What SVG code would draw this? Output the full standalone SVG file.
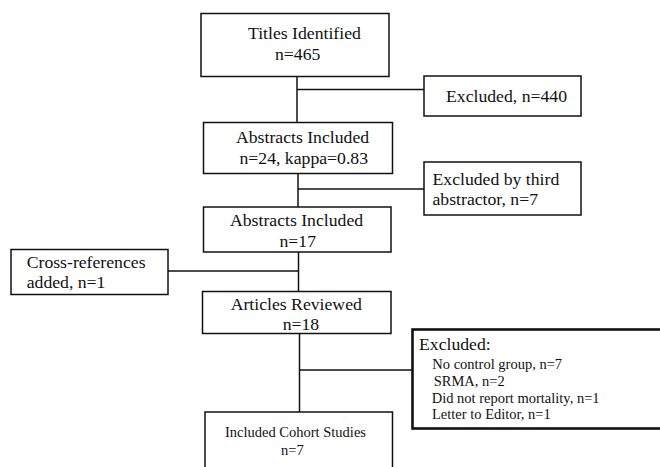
<svg xmlns="http://www.w3.org/2000/svg" width="660" height="467" viewBox="0 0 660 467" font-family="Liberation Serif, DejaVu Serif, serif">
<style>
rect.box{fill:#fff;stroke:#111;stroke-width:1.5}
rect.thick{fill:#fff;stroke:#111;stroke-width:2.6}
text{font-family:'Liberation Serif','DejaVu Serif',serif;fill:#111;font-size:17.7px}
text.sm{font-size:14.5px}
#connectors line{stroke:#111;stroke-width:1.5}
</style>
<rect width="660" height="467" fill="#fff"/>
<g id="connectors">
<line x1="297" y1="76.5" x2="297" y2="122.5"/>
<line x1="297" y1="89.5" x2="424" y2="89.5"/>
<line x1="298" y1="173.5" x2="298" y2="207"/>
<line x1="298" y1="189" x2="424" y2="189"/>
<line x1="298.5" y1="252" x2="298.5" y2="291.5"/>
<line x1="168" y1="271" x2="298.5" y2="271"/>
<line x1="299.5" y1="333" x2="299.5" y2="412"/>
<line x1="299.5" y1="370" x2="412.5" y2="370"/>
</g>
<g id="titles">
<rect class="box" x="201" y="13.5" width="188" height="63"/>
<text x="248" y="39">Titles Identified</text>
<text x="275" y="60">n=465</text>
</g>
<g id="excluded440">
<rect class="box" x="424" y="76" width="157" height="40"/>
<text x="446" y="101.5">Excluded, n=440</text>
</g>
<g id="abstracts1">
<rect class="box" x="203.5" y="122.5" width="189" height="51"/>
<text x="236" y="143">Abstracts Included</text>
<text x="239.5" y="163.5">n=24, kappa=0.83</text>
</g>
<g id="excludedThird">
<rect class="box" x="424" y="162" width="157" height="53"/>
<text x="432.5" y="184.5">Excluded by third</text>
<text x="432.5" y="205">abstractor, n=7</text>
</g>
<g id="abstracts2">
<rect class="box" x="203.5" y="207" width="187.5" height="45"/>
<text x="230" y="226">Abstracts Included</text>
<text x="279.5" y="247">n=17</text>
</g>
<g id="crossref">
<rect class="box" x="11" y="249.5" width="157" height="45"/>
<text x="26.7" y="268">Cross-references</text>
<text x="26.7" y="288">added, n=1</text>
</g>
<g id="articles">
<rect class="box" x="202.5" y="291.5" width="188.5" height="42"/>
<text x="230.7" y="309.5">Articles Reviewed</text>
<text x="282.7" y="330">n=18</text>
</g>
<g id="excludedFull">
<rect class="thick" x="412.5" y="329.5" width="260" height="99"/>
<text x="419" y="349.5">Excluded:</text>
<text class="sm" x="432.3" y="369.3">No control group, n=7</text>
<text class="sm" x="433.7" y="386">SRMA, n=2</text>
<text class="sm" x="431.7" y="402.7">Did not report  mortality, n=1</text>
<text class="sm" x="432" y="419.3">Letter to Editor, n=1</text>
</g>
<g id="cohort">
<rect class="box" x="205" y="412" width="187.5" height="80"/>
<text class="sm" x="225" y="436.5">Included Cohort Studies</text>
<text class="sm" x="281" y="455">n=7</text>
</g>
</svg>
